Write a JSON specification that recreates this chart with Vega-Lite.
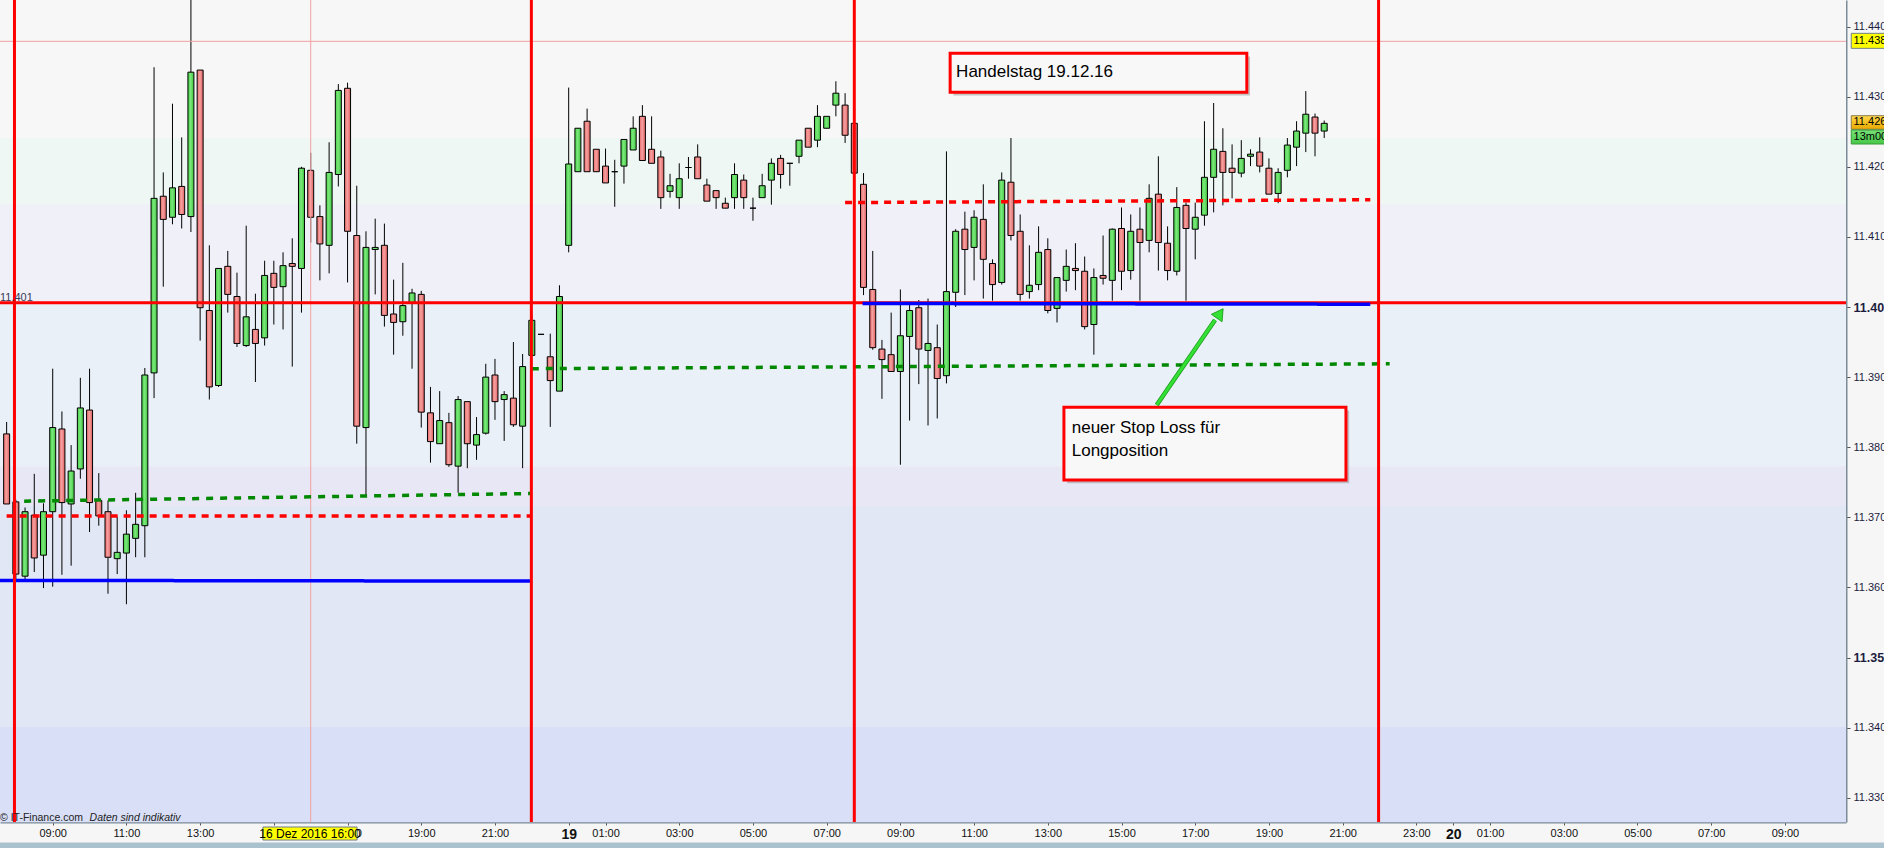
{
  "$schema": "https://vega.github.io/schema/vega-lite/v6.json",
  "width": 1846,
  "height": 822,
  "autosize": {"type": "none"},
  "padding": {"left": 0, "top": 0, "right": 38, "bottom": 26},
  "background": "#f6f6f6",
  "config": {"view": {"stroke": null}, "font": "Liberation Sans"},
  "datasets": {
    "bands": [
      {"zone": "A", "oben": 11.4438, "unten": 11.4241},
      {"zone": "B", "oben": 11.4241, "unten": 11.4147},
      {"zone": "C", "oben": 11.4147, "unten": 11.4006},
      {"zone": "D", "oben": 11.4006, "unten": 11.3773},
      {"zone": "E", "oben": 11.3773, "unten": 11.3716},
      {"zone": "F", "oben": 11.3716, "unten": 11.3401},
      {"zone": "G", "oben": 11.3401, "unten": 11.3265}
    ],
    "candles": [
      {"n":0,"open":11.3819,"high":11.3836,"low":11.3719,"close":11.3719},
      {"n":1,"open":11.3722,"high":11.3725,"low":11.3610,"close":11.3619},
      {"n":2,"open":11.3616,"high":11.3714,"low":11.3610,"close":11.3708},
      {"n":3,"open":11.3703,"high":11.3762,"low":11.3622,"close":11.3642},
      {"n":4,"open":11.3646,"high":11.3720,"low":11.3599,"close":11.3708},
      {"n":5,"open":11.3708,"high":11.3912,"low":11.3601,"close":11.3828},
      {"n":6,"open":11.3826,"high":11.3851,"low":11.3618,"close":11.3721},
      {"n":7,"open":11.3719,"high":11.3803,"low":11.3631,"close":11.3766},
      {"n":8,"open":11.3769,"high":11.3899,"low":11.3755,"close":11.3856},
      {"n":9,"open":11.3853,"high":11.3912,"low":11.3679,"close":11.3721},
      {"n":10,"open":11.3724,"high":11.3763,"low":11.3688,"close":11.3702},
      {"n":11,"open":11.3708,"high":11.3724,"low":11.3591,"close":11.3643},
      {"n":12,"open":11.3641,"high":11.3701,"low":11.3619,"close":11.3650},
      {"n":13,"open":11.3649,"high":11.3710,"low":11.3576,"close":11.3676},
      {"n":14,"open":11.3670,"high":11.3735,"low":11.3643,"close":11.3690},
      {"n":15,"open":11.3688,"high":11.3913,"low":11.3643,"close":11.3903},
      {"n":16,"open":11.3906,"high":11.4342,"low":11.3870,"close":11.4155},
      {"n":17,"open":11.4158,"high":11.4192,"low":11.4029,"close":11.4125},
      {"n":18,"open":11.4128,"high":11.4290,"low":11.4118,"close":11.4170},
      {"n":19,"open":11.4172,"high":11.4242,"low":11.4112,"close":11.4132},
      {"n":20,"open":11.4129,"high":11.4445,"low":11.4107,"close":11.4335},
      {"n":21,"open":11.4338,"high":11.4338,"low":11.3952,"close":11.3999},
      {"n":22,"open":11.3995,"high":11.4088,"low":11.3868,"close":11.3886},
      {"n":23,"open":11.3888,"high":11.4055,"low":11.3886,"close":11.4055},
      {"n":24,"open":11.4058,"high":11.4080,"low":11.3992,"close":11.4018},
      {"n":25,"open":11.4015,"high":11.4049,"low":11.3943,"close":11.3948},
      {"n":26,"open":11.3945,"high":11.4116,"low":11.3943,"close":11.3986},
      {"n":27,"open":11.3968,"high":11.4019,"low":11.3893,"close":11.3948},
      {"n":28,"open":11.3956,"high":11.4066,"low":11.3945,"close":11.4045},
      {"n":29,"open":11.4048,"high":11.4066,"low":11.3975,"close":11.4028},
      {"n":30,"open":11.4029,"high":11.4078,"low":11.3968,"close":11.4059},
      {"n":31,"open":11.4062,"high":11.4098,"low":11.3915,"close":11.4058},
      {"n":32,"open":11.4055,"high":11.4200,"low":11.3992,"close":11.4198},
      {"n":33,"open":11.4195,"high":11.4220,"low":11.4092,"close":11.4128},
      {"n":34,"open":11.4129,"high":11.4145,"low":11.4038,"close":11.4090},
      {"n":35,"open":11.4088,"high":11.4235,"low":11.4048,"close":11.4192},
      {"n":36,"open":11.4189,"high":11.4318,"low":11.4172,"close":11.4309},
      {"n":37,"open":11.4312,"high":11.4320,"low":11.4035,"close":11.4108},
      {"n":38,"open":11.4102,"high":11.4173,"low":11.3805,"close":11.3830},
      {"n":39,"open":11.3828,"high":11.4108,"low":11.3731,"close":11.4085},
      {"n":40,"open":11.4082,"high":11.4126,"low":11.4018,"close":11.4085},
      {"n":41,"open":11.4088,"high":11.4119,"low":11.3972,"close":11.3988},
      {"n":42,"open":11.3990,"high":11.4039,"low":11.3932,"close":11.3978},
      {"n":43,"open":11.3979,"high":11.4063,"low":11.3959,"close":11.4002},
      {"n":44,"open":11.4005,"high":11.4026,"low":11.3912,"close":11.4020},
      {"n":45,"open":11.4018,"high":11.4023,"low":11.3828,"close":11.3850},
      {"n":46,"open":11.3849,"high":11.3886,"low":11.3778,"close":11.3808},
      {"n":47,"open":11.3805,"high":11.3880,"low":11.3805,"close":11.3838},
      {"n":48,"open":11.3835,"high":11.3849,"low":11.3772,"close":11.3775},
      {"n":49,"open":11.3773,"high":11.3873,"low":11.3735,"close":11.3868},
      {"n":50,"open":11.3865,"high":11.3865,"low":11.3770,"close":11.3805},
      {"n":51,"open":11.3803,"high":11.3843,"low":11.3782,"close":11.3818},
      {"n":52,"open":11.3820,"high":11.3919,"low":11.3818,"close":11.3900},
      {"n":53,"open":11.3903,"high":11.3926,"low":11.3839,"close":11.3865},
      {"n":54,"open":11.3868,"high":11.3880,"low":11.3809,"close":11.3875},
      {"n":55,"open":11.3870,"high":11.3950,"low":11.3829,"close":11.3832},
      {"n":56,"open":11.3830,"high":11.3933,"low":11.3770,"close":11.3915},
      {"n":57,"open":11.3931,"high":11.3989,"low":11.3931,"close":11.3981},
      {"n":58,"open":11.3961,"high":11.3961,"low":11.3961,"close":11.3961},
      {"n":59,"open":11.3929,"high":11.3962,"low":11.3829,"close":11.3895},
      {"n":60,"open":11.3880,"high":11.4031,"low":11.3880,"close":11.4015},
      {"n":61,"open":11.4088,"high":11.4313,"low":11.4078,"close":11.4204},
      {"n":62,"open":11.4193,"high":11.4255,"low":11.4193,"close":11.4255},
      {"n":63,"open":11.4265,"high":11.4283,"low":11.4193,"close":11.4193},
      {"n":64,"open":11.4225,"high":11.4225,"low":11.4193,"close":11.4193},
      {"n":65,"open":11.4201,"high":11.4226,"low":11.4177,"close":11.4177},
      {"n":66,"open":11.4193,"high":11.4210,"low":11.4143,"close":11.4193},
      {"n":67,"open":11.4201,"high":11.4239,"low":11.4176,"close":11.4239},
      {"n":68,"open":11.4224,"high":11.4272,"low":11.4224,"close":11.4255},
      {"n":69,"open":11.4272,"high":11.4288,"low":11.4209,"close":11.4209},
      {"n":70,"open":11.4225,"high":11.4272,"low":11.4205,"close":11.4205},
      {"n":71,"open":11.4214,"high":11.4223,"low":11.4140,"close":11.4156},
      {"n":72,"open":11.4165,"high":11.4190,"low":11.4156,"close":11.4173},
      {"n":73,"open":11.4156,"high":11.4205,"low":11.4140,"close":11.4183},
      {"n":74,"open":11.4199,"high":11.4214,"low":11.4183,"close":11.4199},
      {"n":75,"open":11.4214,"high":11.4232,"low":11.4183,"close":11.4183},
      {"n":76,"open":11.4174,"high":11.4183,"low":11.4151,"close":11.4151},
      {"n":77,"open":11.4166,"high":11.4166,"low":11.4140,"close":11.4156},
      {"n":78,"open":11.4148,"high":11.4156,"low":11.4141,"close":11.4141},
      {"n":79,"open":11.4156,"high":11.4205,"low":11.4140,"close":11.4189},
      {"n":80,"open":11.4181,"high":11.4189,"low":11.4140,"close":11.4156},
      {"n":81,"open":11.4141,"high":11.4156,"low":11.4123,"close":11.4141},
      {"n":82,"open":11.4156,"high":11.4190,"low":11.4156,"close":11.4173},
      {"n":83,"open":11.4181,"high":11.4212,"low":11.4146,"close":11.4205},
      {"n":84,"open":11.4212,"high":11.4217,"low":11.4169,"close":11.4189},
      {"n":85,"open":11.4205,"high":11.4205,"low":11.4173,"close":11.4205},
      {"n":86,"open":11.4215,"high":11.4238,"low":11.4205,"close":11.4238},
      {"n":87,"open":11.4255,"high":11.4255,"low":11.4228,"close":11.4228},
      {"n":88,"open":11.4238,"high":11.4288,"low":11.4228,"close":11.4272},
      {"n":89,"open":11.4255,"high":11.4272,"low":11.4255,"close":11.4272},
      {"n":90,"open":11.4288,"high":11.4322,"low":11.4272,"close":11.4305},
      {"n":91,"open":11.4288,"high":11.4305,"low":11.4234,"close":11.4245},
      {"n":92,"open":11.4262,"high":11.4262,"low":11.4191,"close":11.4191},
      {"n":93,"open":11.4175,"high":11.4191,"low":11.4017,"close":11.4028},
      {"n":94,"open":11.4025,"high":11.4080,"low":11.3939,"close":11.3942},
      {"n":95,"open":11.3940,"high":11.3953,"low":11.3869,"close":11.3925},
      {"n":96,"open":11.3932,"high":11.3992,"low":11.3908,"close":11.3908},
      {"n":97,"open":11.3908,"high":11.4025,"low":11.3775,"close":11.3959},
      {"n":98,"open":11.3958,"high":11.4003,"low":11.3838,"close":11.3995},
      {"n":99,"open":11.3999,"high":11.4010,"low":11.3890,"close":11.3940},
      {"n":100,"open":11.3938,"high":11.4012,"low":11.3831,"close":11.3948},
      {"n":101,"open":11.3942,"high":11.3975,"low":11.3841,"close":11.3898},
      {"n":102,"open":11.3902,"high":11.4222,"low":11.3891,"close":11.4022},
      {"n":103,"open":11.4021,"high":11.4111,"low":11.4000,"close":11.4108},
      {"n":104,"open":11.4111,"high":11.4136,"low":11.4017,"close":11.4082},
      {"n":105,"open":11.4085,"high":11.4138,"low":11.4038,"close":11.4128},
      {"n":106,"open":11.4125,"high":11.4175,"low":11.4012,"close":11.4068},
      {"n":107,"open":11.4062,"high":11.4068,"low":11.4009,"close":11.4032},
      {"n":108,"open":11.4035,"high":11.4192,"low":11.4032,"close":11.4181},
      {"n":109,"open":11.4178,"high":11.4241,"low":11.4095,"close":11.4102},
      {"n":110,"open":11.4108,"high":11.4132,"low":11.4009,"close":11.4018},
      {"n":111,"open":11.4022,"high":11.4088,"low":11.4012,"close":11.4031},
      {"n":112,"open":11.4032,"high":11.4115,"low":11.4024,"close":11.4078},
      {"n":113,"open":11.4082,"high":11.4098,"low":11.3991,"close":11.3995},
      {"n":114,"open":11.3998,"high":11.4042,"low":11.3978,"close":11.4042},
      {"n":115,"open":11.4038,"high":11.4082,"low":11.4022,"close":11.4058},
      {"n":116,"open":11.4055,"high":11.4091,"low":11.4024,"close":11.4052},
      {"n":117,"open":11.4051,"high":11.4072,"low":11.3968,"close":11.3972},
      {"n":118,"open":11.3975,"high":11.4055,"low":11.3932,"close":11.4042},
      {"n":119,"open":11.4045,"high":11.4102,"low":11.4032,"close":11.4041},
      {"n":120,"open":11.4038,"high":11.4112,"low":11.4009,"close":11.4111},
      {"n":121,"open":11.4112,"high":11.4142,"low":11.4024,"close":11.4051},
      {"n":122,"open":11.4052,"high":11.4132,"low":11.4039,"close":11.4108},
      {"n":123,"open":11.4111,"high":11.4142,"low":11.4009,"close":11.4092},
      {"n":124,"open":11.4095,"high":11.4175,"low":11.4078,"close":11.4155},
      {"n":125,"open":11.4161,"high":11.4215,"low":11.4052,"close":11.4092},
      {"n":126,"open":11.4091,"high":11.4115,"low":11.4038,"close":11.4052},
      {"n":127,"open":11.4051,"high":11.4171,"low":11.4045,"close":11.4142},
      {"n":128,"open":11.4145,"high":11.4149,"low":11.4009,"close":11.4112},
      {"n":129,"open":11.4111,"high":11.4149,"low":11.4068,"close":11.4128},
      {"n":130,"open":11.4131,"high":11.4265,"low":11.4116,"close":11.4185},
      {"n":131,"open":11.4185,"high":11.4291,"low":11.4135,"close":11.4225},
      {"n":132,"open":11.4222,"high":11.4255,"low":11.4145,"close":11.4192},
      {"n":133,"open":11.4198,"high":11.4232,"low":11.4155,"close":11.4192},
      {"n":134,"open":11.4191,"high":11.4238,"low":11.4185,"close":11.4212},
      {"n":135,"open":11.4215,"high":11.4225,"low":11.4201,"close":11.4218},
      {"n":136,"open":11.4221,"high":11.4242,"low":11.4192,"close":11.4201},
      {"n":137,"open":11.4198,"high":11.4212,"low":11.4161,"close":11.4161},
      {"n":138,"open":11.4162,"high":11.4198,"low":11.4148,"close":11.4192},
      {"n":139,"open":11.4195,"high":11.4241,"low":11.4185,"close":11.4231},
      {"n":140,"open":11.4228,"high":11.4265,"low":11.4201,"close":11.4251},
      {"n":141,"open":11.4248,"high":11.4308,"low":11.4221,"close":11.4275},
      {"n":142,"open":11.4271,"high":11.4276,"low":11.4215,"close":11.4248},
      {"n":143,"open":11.4251,"high":11.4266,"low":11.4241,"close":11.4262}
    ],
    "segs": [
      {"linie": "Rot Freitag", "n1": 0, "n2": 56.95, "p1": 11.3702, "p2": 11.3702},
      {"linie": "Grün Freitag", "n1": 1.9, "n2": 56.95, "p1": 11.3723, "p2": 11.3734},
      {"linie": "Grün Montag", "n1": 57, "n2": 150.1, "p1": 11.3912, "p2": 11.3919},
      {"linie": "Rot Montag", "n1": 91, "n2": 148, "p1": 11.4149, "p2": 11.4153},
      {"linie": "Stop Freitag", "n1": -1, "n2": 56.95, "p1": 11.3610, "p2": 11.3609},
      {"linie": "Stop Montag", "n1": 92.9, "n2": 148, "p1": 11.4005, "p2": 11.4004}
    ],
    "sessions": [{"n": 0.85}, {"n": 56.95}, {"n": 92}, {"n": 148.9}]
  },
  "layer": [
    {
      "data": {"name": "bands"},
      "mark": {"type": "rect"},
      "encoding": {
        "x": {"value": 0},
        "x2": {"value": "width"},
        "y": {
          "field": "oben", "type": "quantitative",
          "scale": {"domain": [11.326534, 11.443795], "nice": false, "zero": false},
          "axis": {
            "title": null, "orient": "right",
            "values": [11.33, 11.34, 11.35, 11.36, 11.37, 11.38, 11.39, 11.4, 11.41, 11.42, 11.43, 11.44],
            "labelExpr": "format(datum.value, '.3f')",
            "grid": false, "domainColor": "#7b8b98", "domainWidth": 2,
            "tickColor": "#555555", "tickSize": 4, "labelColor": "#1c1c40",
            "labelFont": "Liberation Sans",
            "labelFontSize": {"condition": {"test": "abs(datum.value - 11.4) < 0.0001 || abs(datum.value - 11.35) < 0.0001", "value": 12.5}, "value": 11},
            "labelFontWeight": {"condition": {"test": "abs(datum.value - 11.4) < 0.0001 || abs(datum.value - 11.35) < 0.0001", "value": "bold"}, "value": "normal"},
            "labelPadding": 3, "labelOverlap": false, "labelFlush": false, "labelBound": false, "labelBaseline": "middle"
          }
        },
        "y2": {"field": "unten"},
        "fill": {
          "field": "zone", "type": "nominal",
          "scale": {"domain": ["A", "B", "C", "D", "E", "F", "G"], "range": ["#f7f7f8", "#eff7f5", "#f0f0f8", "#eaf0f8", "#e8e7f5", "#e2e7f6", "#d8dff6"]},
          "legend": null
        }
      }
    },
    {
      "data": {"name": "candles"},
      "mark": {"type": "rule", "color": "#000000", "strokeWidth": 1, "clip": true},
      "encoding": {
        "x": {
          "field": "n", "type": "quantitative",
          "scale": {"domain": [-0.72, 199.63], "nice": false, "zero": false, "padding": 0},
          "axis": {
            "title": null, "orient": "bottom",
            "values": [5, 13, 21, 29, 37, 45, 53, 61, 65, 73, 81, 89, 97, 105, 113, 121, 129, 137, 145, 153, 157, 161, 169, 177, 185, 193],
            "labelExpr": "datum.value == 29 ? '' : datum.value == 61 ? '19' : datum.value == 157 ? '20' : timeFormat(datetime(2016, 11, 16, 0, datum.value < 60 ? 465 + datum.value * 15 : datum.value < 157 ? (datum.value - 61) * 15 : (datum.value - 157) * 15), '%H:%M')",
            "grid": false, "domainColor": "#7b8b98", "domainWidth": 2,
            "tickColor": "#555555", "tickSize": 3, "labelColor": "#111111",
            "labelFont": "Liberation Sans",
            "labelFontSize": {"condition": {"test": "datum.value == 61 || datum.value == 157", "value": 14}, "value": 11},
            "labelFontWeight": {"condition": {"test": "datum.value == 61 || datum.value == 157", "value": "bold"}, "value": "normal"},
            "labelPadding": 2, "labelOverlap": false, "labelFlush": false, "labelBound": false
          }
        },
        "y": {"field": "low", "type": "quantitative"},
        "y2": {"field": "high"}
      }
    },
    {
      "data": {"name": "candles"},
      "transform": [{"filter": "datum.close >= datum.open"}],
      "mark": {
        "type": "bar", "width": 6, "stroke": "#000000", "strokeWidth": 1,
        "fill": {"gradient": "linear", "x1": 0, "y1": 0, "x2": 1, "y2": 0,
          "stops": [{"offset": 0, "color": "#45cf45"}, {"offset": 0.45, "color": "#7ae87a"}, {"offset": 1, "color": "#3fc43f"}]}
      },
      "encoding": {
        "x": {"field": "n", "type": "quantitative"},
        "y": {"field": "open", "type": "quantitative"},
        "y2": {"field": "close"}
      }
    },
    {
      "data": {"name": "candles"},
      "transform": [{"filter": "datum.close < datum.open"}],
      "mark": {
        "type": "bar", "width": 6, "stroke": "#000000", "strokeWidth": 1,
        "fill": {"gradient": "linear", "x1": 0, "y1": 0, "x2": 1, "y2": 0,
          "stops": [{"offset": 0, "color": "#e66464"}, {"offset": 0.45, "color": "#f6a0a0"}, {"offset": 1, "color": "#e06060"}]}
      },
      "encoding": {
        "x": {"field": "n", "type": "quantitative"},
        "y": {"field": "open", "type": "quantitative"},
        "y2": {"field": "close"}
      }
    },
    {
      "data": {"values": [{}]},
      "mark": {"type": "rule", "color": "#f3a0a0", "strokeWidth": 1},
      "encoding": {"x": {"datum": 33, "type": "quantitative"}}
    },
    {
      "data": {"values": [{}]},
      "mark": {"type": "rule", "color": "#f3a0a0", "strokeWidth": 1},
      "encoding": {"y": {"datum": 11.4379, "type": "quantitative"}}
    },
    {
      "data": {"values": [{}]},
      "mark": {"type": "rule", "color": "#ff0000", "strokeWidth": 3},
      "encoding": {"y": {"datum": 11.4006, "type": "quantitative"}}
    },
    {
      "data": {"name": "segs"},
      "mark": {"type": "rule", "strokeWidth": 3.5, "clip": true},
      "encoding": {
        "x": {"field": "n1", "type": "quantitative"},
        "x2": {"field": "n2"},
        "y": {"field": "p1", "type": "quantitative"},
        "y2": {"field": "p2"},
        "color": {
          "field": "linie", "type": "nominal", "legend": null,
          "scale": {"domain": ["Rot Freitag", "Grün Freitag", "Grün Montag", "Rot Montag", "Stop Freitag", "Stop Montag"],
                    "range": ["#ff0000", "#008800", "#008800", "#ff0000", "#0000ff", "#0000ff"]}
        },
        "strokeDash": {
          "field": "linie", "type": "nominal", "legend": null,
          "scale": {"domain": ["Rot Freitag", "Grün Freitag", "Grün Montag", "Rot Montag", "Stop Freitag", "Stop Montag"],
                    "range": [[7, 6], [7, 7], [7, 7], [7, 6], [1, 0], [1, 0]]}
        }
      }
    },
    {
      "data": {"name": "sessions"},
      "mark": {"type": "rule", "color": "#ff0000", "strokeWidth": 3},
      "encoding": {"x": {"field": "n", "type": "quantitative"}}
    },
    {
      "data": {"values": [{}]},
      "mark": {"type": "rect", "fill": "#777777", "opacity": 0.4},
      "encoding": {
        "x": {"datum": 102.75, "type": "quantitative"}, "x2": {"datum": 134.95},
        "y": {"datum": 11.43574, "type": "quantitative"}, "y2": {"datum": 11.43018}
      }
    },
    {
      "data": {"values": [{}]},
      "mark": {"type": "rect", "fill": "#f8f8f8", "stroke": "#ff0000", "strokeWidth": 3},
      "encoding": {
        "x": {"datum": 102.4, "type": "quantitative"}, "x2": {"datum": 134.6},
        "y": {"datum": 11.43619, "type": "quantitative"}, "y2": {"datum": 11.43063}
      }
    },
    {
      "data": {"values": [{"label": "Handelstag 19.12.16"}]},
      "mark": {"type": "text", "align": "left", "baseline": "alphabetic", "fontSize": 17, "color": "#000000", "font": "Liberation Sans"},
      "encoding": {
        "x": {"datum": 103.05, "type": "quantitative"},
        "y": {"datum": 11.43277, "type": "quantitative"},
        "text": {"field": "label"}
      }
    },
    {
      "data": {"values": [{}]},
      "mark": {"type": "rect", "fill": "#777777", "opacity": 0.4},
      "encoding": {
        "x": {"datum": 115.1, "type": "quantitative"}, "x2": {"datum": 145.71},
        "y": {"datum": 11.38524, "type": "quantitative"}, "y2": {"datum": 11.37487}
      }
    },
    {
      "data": {"values": [{}]},
      "mark": {"type": "rect", "fill": "#f8f8f8", "stroke": "#ff0000", "strokeWidth": 3},
      "encoding": {
        "x": {"datum": 114.75, "type": "quantitative"}, "x2": {"datum": 145.36},
        "y": {"datum": 11.38569, "type": "quantitative"}, "y2": {"datum": 11.37532}
      }
    },
    {
      "data": {"values": [{}]},
      "mark": {"type": "text", "align": "left", "baseline": "alphabetic", "fontSize": 17, "lineHeight": 22.6, "color": "#000000", "font": "Liberation Sans"},
      "encoding": {
        "x": {"datum": 115.6, "type": "quantitative"},
        "y": {"datum": 11.38203, "type": "quantitative"},
        "text": {"value": ["neuer Stop Loss für", "Longposition"]}
      }
    },
    {
      "data": {"values": [{}]},
      "mark": {"type": "rule", "color": "#1c9a1c", "strokeWidth": 4.5},
      "encoding": {
        "x": {"datum": 124.82, "type": "quantitative"}, "x2": {"datum": 131.15},
        "y": {"datum": 11.38602, "type": "quantitative"}, "y2": {"datum": 11.39815}
      }
    },
    {
      "data": {"values": [{}]},
      "mark": {"type": "rule", "color": "#33e033", "strokeWidth": 3},
      "encoding": {
        "x": {"datum": 124.82, "type": "quantitative"}, "x2": {"datum": 131.15},
        "y": {"datum": 11.38602, "type": "quantitative"}, "y2": {"datum": 11.39815}
      }
    },
    {
      "data": {"values": [{}]},
      "mark": {"type": "point", "shape": "triangle-up", "angle": 34.6, "size": 170, "filled": true, "fill": "#33e033", "stroke": "#1c9a1c", "strokeWidth": 0.8, "opacity": 1},
      "encoding": {
        "x": {"datum": 131.68, "type": "quantitative"},
        "y": {"datum": 11.39909, "type": "quantitative"}
      }
    },
    {
      "data": {"values": [{}]},
      "mark": {"type": "text", "align": "left", "baseline": "middle", "fontSize": 11, "color": "#3a3a5a"},
      "encoding": {
        "x": {"datum": -0.72, "type": "quantitative"},
        "y": {"datum": 11.40128, "type": "quantitative"},
        "text": {"value": "11.401"}
      }
    },
    {
      "data": {"values": [{}]},
      "mark": {"type": "text", "align": "left", "baseline": "alphabetic", "fontSize": 10.5, "color": "#222222"},
      "encoding": {
        "x": {"datum": -0.72, "type": "quantitative"},
        "y": {"datum": 11.32672, "type": "quantitative"},
        "text": {"value": "© IT-Finance.com"}
      }
    },
    {
      "data": {"values": [{}]},
      "mark": {"type": "text", "align": "left", "baseline": "alphabetic", "fontSize": 10.5, "fontStyle": "italic", "color": "#222222"},
      "encoding": {
        "x": {"datum": 9.0, "type": "quantitative"},
        "y": {"datum": 11.32672, "type": "quantitative"},
        "text": {"value": "Daten sind indikativ"}
      }
    },
    {
      "data": {"values": [{}]},
      "mark": {"type": "rect", "fill": "#a9c2cd"},
      "encoding": {
        "x": {"datum": -2, "type": "quantitative"}, "x2": {"datum": 206},
        "y": {"datum": 11.32361, "type": "quantitative"}, "y2": {"datum": 11.3215}
      }
    },
    {
      "data": {"values": [{}]},
      "mark": {"type": "rect", "fill": "#ffff00", "stroke": "#6f7f8a", "strokeWidth": 1},
      "encoding": {
        "x": {"datum": 27.82, "type": "quantitative"}, "x2": {"datum": 38.03},
        "y": {"datum": 11.32582, "type": "quantitative"}, "y2": {"datum": 11.32396}
      }
    },
    {
      "data": {"values": [{}]},
      "mark": {"type": "text", "align": "center", "baseline": "middle", "fontSize": 12, "color": "#000000"},
      "encoding": {
        "x": {"datum": 32.93, "type": "quantitative"},
        "y": {"datum": 11.32486, "type": "quantitative"},
        "text": {"value": "16 Dez 2016 16:00"}
      }
    },
    {
      "data": {"values": [{}]},
      "mark": {"type": "rect", "fill": "#ffff00", "stroke": "#6f7f8a", "strokeWidth": 1},
      "encoding": {
        "x": {"datum": 200.2, "type": "quantitative"}, "x2": {"datum": 204.5},
        "y": {"datum": 11.43904, "type": "quantitative"}, "y2": {"datum": 11.4369}
      }
    },
    {
      "data": {"values": [{}]},
      "mark": {"type": "rect", "stroke": "#8a7a50", "strokeWidth": 1,
        "fill": {"gradient": "linear", "x1": 0, "y1": 0, "x2": 0, "y2": 1,
          "stops": [{"offset": 0, "color": "#ffd84a"}, {"offset": 1, "color": "#e8a800"}]}},
      "encoding": {
        "x": {"datum": 200.2, "type": "quantitative"}, "x2": {"datum": 204.5},
        "y": {"datum": 11.42729, "type": "quantitative"}, "y2": {"datum": 11.42535}
      }
    },
    {
      "data": {"values": [{}]},
      "mark": {"type": "rect", "stroke": "#3a9a3a", "strokeWidth": 1,
        "fill": {"gradient": "linear", "x1": 0, "y1": 0, "x2": 0, "y2": 1,
          "stops": [{"offset": 0, "color": "#78e078"}, {"offset": 1, "color": "#46c846"}]}},
      "encoding": {
        "x": {"datum": 200.2, "type": "quantitative"}, "x2": {"datum": 204.5},
        "y": {"datum": 11.42525, "type": "quantitative"}, "y2": {"datum": 11.42325}
      }
    },
    {
      "data": {"values": [{"wert": "11.438", "p": 11.43797}, {"wert": "11.426", "p": 11.42632}, {"wert": "13m00", "p": 11.42425}]},
      "mark": {"type": "text", "align": "left", "baseline": "middle", "fontSize": 11, "color": "#000000"},
      "encoding": {
        "x": {"datum": 200.45, "type": "quantitative"},
        "y": {"field": "p", "type": "quantitative"},
        "text": {"field": "wert"}
      }
    }
  ]
}
